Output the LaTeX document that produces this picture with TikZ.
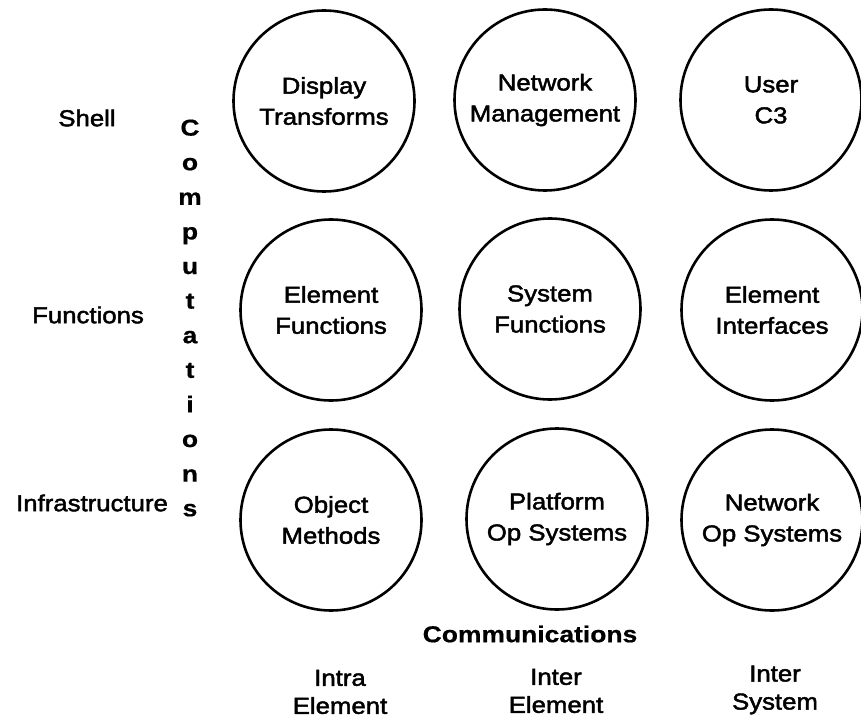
\documentclass[tikz,border=0pt]{standalone}
\usepackage{fontspec}
\setmainfont[FakeStretch=1.12]{Liberation Sans}
\newfontfamily\labelfont[FakeStretch=1.12, FakeBold=2]{Liberation Sans}
\newfontfamily\axisfont[FakeStretch=1.15, FakeBold=0.6]{Liberation Sans Bold}

\begin{document}
\begin{tikzpicture}[x=1pt,y=-1pt,
  bubble/.style={draw, circle, line width=2.6pt, minimum size=181pt, inner sep=0pt,
    align=center, font=\labelfont\fontsize{23}{31}\selectfont},
  rowlabel/.style={font=\labelfont\fontsize{23}{28}\selectfont, inner sep=0pt},
  collabel/.style={align=center, font=\labelfont\fontsize{23}{28}\selectfont, inner sep=0pt},
  axislabel/.style={align=center, inner sep=0pt, font=\axisfont\fontsize{23}{34.6}\selectfont}]
  \useasboundingbox (0,0) rectangle (861,719);

  % shell row
  \node[bubble] (dt)  at (324,101) {Display\\Transforms};
  \node[bubble] (nm)  at (545,100) {Network\\Management};
  \node[bubble] (uc)  at (771,100) {User\\C3};
  % functions row
  \node[bubble] (ef)  at (331,310) {Element\\Functions};
  \node[bubble] (sf)  at (550,309) {System\\Functions};
  \node[bubble] (ei)  at (772,310) {Element\\Interfaces};
  % infrastructure row
  \node[bubble] (om)  at (331,520) {Object\\Methods};
  \node[bubble] (pos) at (557,519) {Platform\\Op Systems};
  \node[bubble] (nos) at (772,520) {Network\\Op Systems};

  % layer names
  \node[rowlabel] (shell) at (87,118) {Shell};
  \node[rowlabel] (func)  at (88,315) {Functions};
  \node[rowlabel] (infra) at (92,503) {Infrastructure};

  % vertical axis word
  \node[axislabel] (comp) at (190,318) {C\\o\\m\\p\\u\\t\\a\\t\\i\\o\\n\\s};

  % horizontal axis
  \node[axislabel] (comm) at (530,634) {Communications};
  \node[collabel] (intra)    at (340,692) {Intra\\Element};
  \node[collabel] (interel)  at (556,691) {Inter\\Element};
  \node[collabel] (intersys) at (775,690) {Inter\\System};
\end{tikzpicture}
\end{document}
